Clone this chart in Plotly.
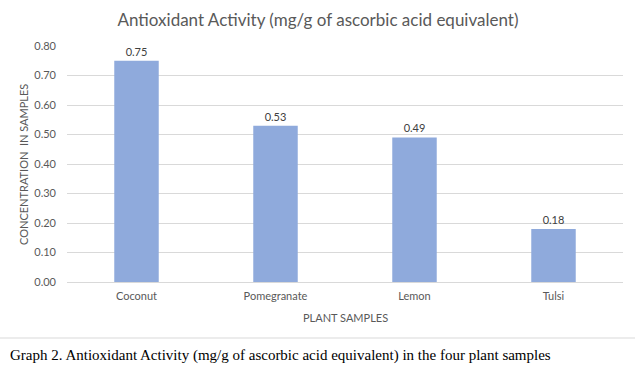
import plotly.graph_objects as go

categories = ["Coconut", "Pomegranate", "Lemon", "Tulsi"]
values = [0.75, 0.53, 0.49, 0.18]
value_labels = ["0.75", "0.53", "0.49", "0.18"]
tick_vals = [0.0, 0.1, 0.2, 0.3, 0.4, 0.5, 0.6, 0.7, 0.8]
tick_text = ["0.00", "0.10", "0.20", "0.30", "0.40", "0.50", "0.60", "0.70", "0.80"]

W, H = 635, 369
L, R, T, B = 67, 12, 46, 87
pw = W - L - R
ph = H - T - B

def px_x(x):
    return (x - L) / pw

def px_y(y):
    return (H - B - y) / ph

FONT = "Lato"

fig = go.Figure(go.Bar(
    x=categories, y=values,
    marker=dict(color="#8FAADC", line=dict(width=0)),
    text=value_labels, textposition="outside",
    textfont=dict(family=FONT, size=11, color="#404040"),
    cliponaxis=False,
    width=0.32,
))

fig.update_layout(
    width=W, height=H,
    margin=dict(l=L, r=R, t=T, b=B),
    paper_bgcolor="white", plot_bgcolor="white",
    showlegend=False,
    title=dict(text="Antioxidant Activity (mg/g of ascorbic acid equivalent)",
               x=px_x(318), xref="paper", xanchor="center",
               y=1 - 20 / H, yref="container", yanchor="middle",
               font=dict(family=FONT, size=17, color="#595959")),
    xaxis=dict(showgrid=False, showline=False, ticks="",
               ticklabelstandoff=6,
               tickfont=dict(family=FONT, size=11, color="#595959")),
    yaxis=dict(range=[0, 0.8], tickvals=tick_vals, ticktext=tick_text,
               showgrid=True, gridcolor="#D9D9D9", gridwidth=1,
               zeroline=True, zerolinecolor="#D9D9D9", zerolinewidth=1,
               showline=False, ticks="", ticklabelstandoff=10,
               tickfont=dict(family=FONT, size=11, color="#595959")),
    annotations=[
        dict(text="PLANT SAMPLES", xref="paper", yref="paper",
             x=0.5, y=px_y(317), xanchor="center", yanchor="middle",
             showarrow=False, font=dict(family=FONT, size=11, color="#595959")),
        dict(text="CONCENTRATION  IN SAMPLES", xref="paper", yref="paper",
             x=px_x(23), y=px_y(165), xanchor="center", yanchor="middle",
             textangle=-90, showarrow=False,
             font=dict(family=FONT, size=11, color="#595959")),
        dict(text="Graph 2. Antioxidant Activity (mg/g of ascorbic acid equivalent) in the four plant samples",
             xref="paper", yref="paper", x=px_x(8), y=px_y(355),
             xanchor="left", yanchor="middle", showarrow=False,
             font=dict(family="Liberation Serif", size=15, color="#000000")),
    ],
    shapes=[
        dict(type="line", xref="paper", yref="paper",
             x0=px_x(0), x1=px_x(W), y0=px_y(338), y1=px_y(338),
             line=dict(color="#D9D9D9", width=1)),
    ],
)

fig.write_html("out.html",
               config={"displayModeBar": False},
               post_script="document.body.style.margin='0';document.body.style.padding='0';")
